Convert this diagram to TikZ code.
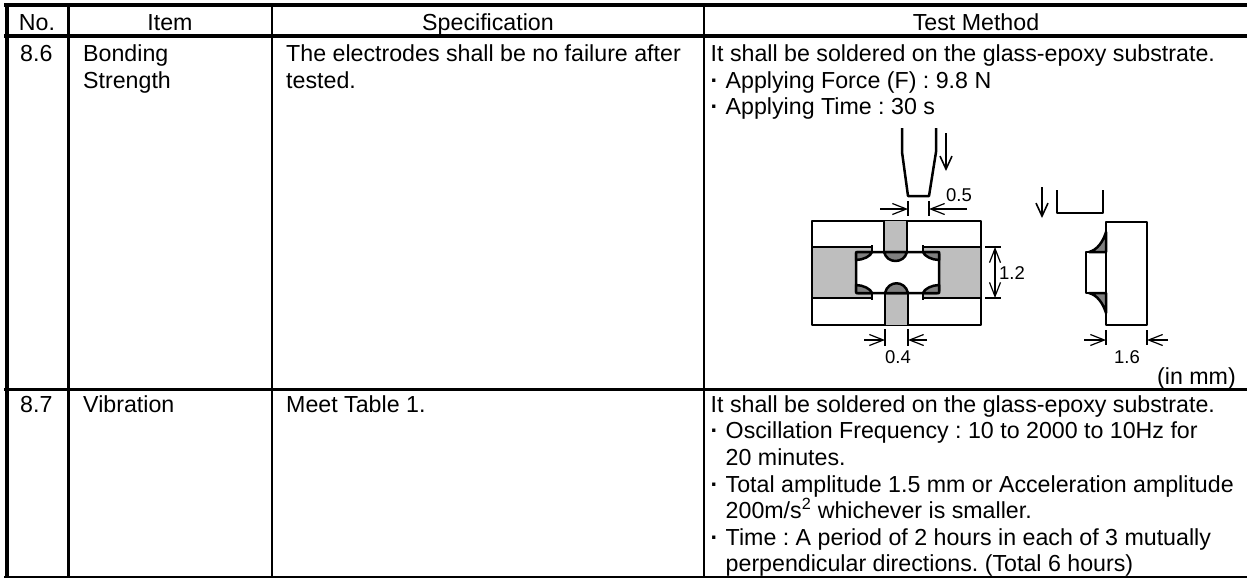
\documentclass[tikz,border=0pt]{standalone}
\usepackage{fontspec}
\setmainfont{Liberation Sans}
\usetikzlibrary{arrows.meta}
\tikzset{
  celltext/.style={anchor=base west,inner sep=0pt,font=\fontsize{23.2}{26}\selectfont},
  headtext/.style={anchor=base,inner sep=0pt,font=\fontsize{23.2}{26}\selectfont},
  dimtext/.style={anchor=center,inner sep=0pt,font=\fontsize{18.5}{20}\selectfont},
  rowline/.style={line width=3.5pt},
  colline/.style={line width=2.5pt},
  partline/.style={line width=2.5pt,line join=round},
  dimline/.style={line width=1.2pt},
  dimtip/.style={dimline,-{Straight Barb[length=14pt,width=11pt,line width=1.2pt]}},
  pushtip/.style={line width=1.6pt,-{Straight Barb[length=13pt,width=12pt,line width=1.6pt]}}
}
\definecolor{padgray}{HTML}{BEBEBE}
\definecolor{soldergray}{HTML}{808080}
\newcommand{\dotitem}[1]{\makebox[15pt][l]{\textbf{·}}#1}
\frenchspacing
\begin{document}
\begin{tikzpicture}[x=1pt,y=-1pt]
\useasboundingbox (0,0) rectangle (1247,579);

\draw [rowline] (4,5) -- (1247,5);
\draw [rowline] (4,36) -- (1247,36);
\draw [line width=3pt] (4,389) -- (1247,389);
\draw [line width=2pt] (4,577) -- (1247,577);
\draw [line width=4pt] (7,3) -- (7,578);
\draw [colline] (68.5,5) -- (68.5,577);
\draw [colline] (272,5) -- (272,577);
\draw [colline] (704,5) -- (704,577);

\node [headtext] (headno) at (37,30) {No.};
\node [headtext] (headitem) at (170,30) {Item};
\node [headtext] (headspec) at (488,30) {Specification};
\node [headtext] (headtest) at (976,30) {Test Method};

\node [celltext] (no86) at (20,61) {8.6};
\node [celltext] (bond1) at (83,61) {Bonding};
\node [celltext] (bond2) at (83,88) {Strength};
\node [celltext] (spec1) at (286,61) {The electrodes shall be no failure after};
\node [celltext] (spec2) at (286,88) {tested.};
\node [celltext] (bondtest1) at (710.5,61) {It shall be soldered on the glass-epoxy substrate.};
\node [celltext] (bondtest2) at (710.5,88) {\dotitem{Applying Force (F) : 9.8 N}};
\node [celltext] (bondtest3) at (710.5,114) {\dotitem{Applying Time : 30 s}};

\node [celltext] (no87) at (20,412) {8.7};
\node [celltext] (vib) at (83,412) {Vibration};
\node [celltext] (meet) at (286,412) {Meet Table 1.};
\node [celltext] (vibtest1) at (710.5,412) {It shall be soldered on the glass-epoxy substrate.};
\node [celltext] (vibtest2) at (710.5,438.5) {\dotitem{Oscillation Frequency : 10 to 2000 to 10Hz for}};
\node [celltext] (vibtest3) at (725.5,465.5) {20 minutes.};
\node [celltext] (vibtest4) at (710.5,492) {\dotitem{Total amplitude 1.5 mm or Acceleration amplitude}};
\node [celltext] (vibtest5) at (725.5,518.5) {200m/s\textsuperscript{2} whichever is smaller.};
\node [celltext] (vibtest6) at (710.5,545) {\dotitem{Time : A period of 2 hours in each of 3 mutually}};
\node [celltext] (vibtest7) at (725.5,571) {perpendicular directions. (Total 6 hours)};

\draw [partline] (902,128) -- (902,152) -- (908,196) -- (929,196) -- (936,152) -- (936,128);
\draw [pushtip] (946,133) -- (946,171);
\draw [dimline] (908,201) -- (908,216);
\draw [dimline] (929,201) -- (929,216);
\draw [dimtip] (880,209) -- (908,209);
\draw [dimtip] (967,209) -- (929,209);
\node [dimtext] (dimhalf) at (959,195) {0.5};

\draw [partline] (812,221) rectangle (981,325);
\fill [padgray] (813,247) -- (872,247) -- (872,252) -- (856,252) -- (856,293) -- (872,293) -- (872,298) -- (813,298) -- cycle;
\fill [padgray] (980,247) -- (923,247) -- (923,252) -- (939,252) -- (939,293) -- (923,293) -- (923,298) -- (980,298) -- cycle;
\filldraw [fill=padgray,partline] (884,221) -- (884,252) -- (907,252) -- (907,221);
\filldraw [fill=padgray,partline] (885,325) -- (885,293) -- (908,293) -- (908,325);
\draw [partline] (812,247) -- (872,247) -- (872,252);
\draw [partline] (981,247) -- (923,247) -- (923,252);
\draw [partline] (812,298) -- (872,298) -- (872,293);
\draw [partline] (981,298) -- (923,298) -- (923,293);
\draw [partline] (872,245) -- (872,252);
\draw [partline] (923,245) -- (923,252);
\draw [partline] (872,293) -- (872,300);
\draw [partline] (923,293) -- (923,300);
\draw [partline,rounded corners=2pt,fill=white] (856,252) rectangle (939,293);
\filldraw [fill=soldergray,partline] (884,252) .. controls (887,264) and (904,264) .. (907,252) -- cycle;
\filldraw [fill=soldergray,partline] (885,293) .. controls (888,280) and (905,280) .. (908,293) -- cycle;
\filldraw [fill=soldergray,partline] (872,252) .. controls (871,256) and (863,260) .. (856,260) -- (856,252) -- cycle;
\filldraw [fill=soldergray,partline] (923,252) .. controls (924,256) and (932,260) .. (939,260) -- (939,252) -- cycle;
\filldraw [fill=soldergray,partline] (872,293) .. controls (871,289) and (863,285) .. (856,285) -- (856,293) -- cycle;
\filldraw [fill=soldergray,partline] (923,293) .. controls (924,289) and (932,285) .. (939,285) -- (939,293) -- cycle;

\draw [dimline] (985,247) -- (1001,247);
\draw [dimline] (985,298) -- (1001,298);
\draw [dimline,{Straight Barb[length=14pt,width=11pt,line width=1.2pt]}-{Straight Barb[length=14pt,width=11pt,line width=1.2pt]}] (995,247) -- (995,298);
\node [dimtext] (dimheight) at (1012,273) {1.2};

\draw [dimline] (885,329) -- (885,346);
\draw [dimline] (908,329) -- (908,346);
\draw [dimtip] (864,340) -- (885,340);
\draw [dimtip] (927,340) -- (908,340);
\node [dimtext] (dimgap) at (898,357) {0.4};

\draw [pushtip] (1042,187) -- (1042,218);
\draw [partline] (1057,190) -- (1057,213) -- (1103,213) -- (1103,190);

\filldraw [fill=soldergray,partline] (1106,232) .. controls (1103,242) and (1097,250) .. (1089,252) -- (1106,252) -- cycle;
\filldraw [fill=soldergray,partline] (1106,313) .. controls (1103,303) and (1097,295) .. (1089,293) -- (1106,293) -- cycle;
\draw [partline] (1106,222) rectangle (1147,325);
\draw [partline] (1086,252) rectangle (1106,293);

\draw [dimline] (1106,330) -- (1106,345);
\draw [dimline] (1147,330) -- (1147,345);
\draw [dimtip] (1084,340) -- (1106,340);
\draw [dimtip] (1168,340) -- (1147,340);
\node [dimtext] (dimwidth) at (1127,357) {1.6};
\node [celltext,anchor=base east] (unit) at (1236,384) {(in mm)};
\end{tikzpicture}
\end{document}
